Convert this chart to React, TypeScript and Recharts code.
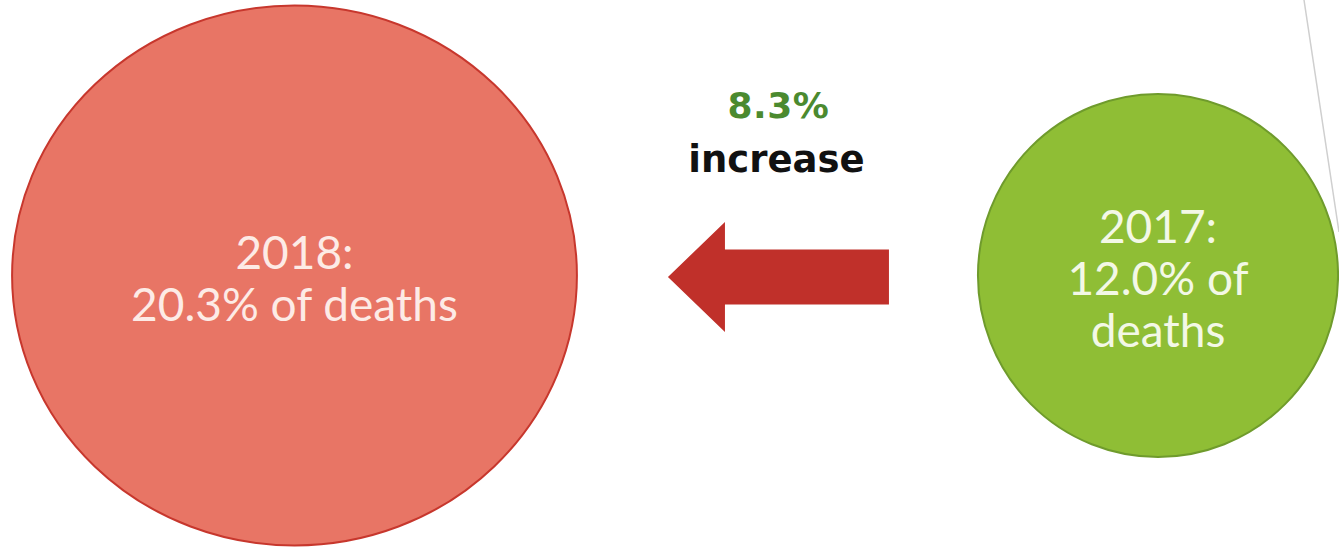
import React from "react";
import { ScatterChart, Scatter, XAxis, YAxis, ZAxis, Customized } from "recharts";

// values
const years = [2018, 2017];
const shares = [20.3, 12.0];
const unitText = "of deaths";
const changeText = "increase";

const fills = ["#e87565", "#8fbe35"];
const strokes = ["#c7372d", "#6f9b2c"];
const labelColors = ["#fdebe6", "#f3f8e6"];
// the slide image is slightly stretched, so the bubbles are not perfectly round
const aspect = [1.046, 0.992];

const W = 1339;
const H = 551;
const FONT = 46;
const LINE = 52;

const points = years.map((year, i) => ({ year, share: shares[i], row: 0.5, idx: i }));
const change = `${(shares[0] - shares[1]).toFixed(1)}%`;

// rough word wrap so the text stays inside the circle
const wrap = (words: string[], maxW: number) => {
  const lines: string[] = [];
  let cur = "";
  words.forEach((w) => {
    const next = cur ? `${cur} ${w}` : w;
    if (cur && next.length * FONT * 0.46 > maxW) {
      lines.push(cur);
      cur = w;
    } else cur = next;
  });
  if (cur) lines.push(cur);
  return lines;
};

const Bubble = (props: any) => {
  const { cx, cy, payload } = props;
  const r = props.width ? props.width / 2 : Math.sqrt(props.size / Math.PI);
  const i = payload.idx;
  const rx = r * aspect[i];
  const lines = [`${payload.year}:`, ...wrap([`${payload.share.toFixed(1)}%`, ...unitText.split(" ")], rx * 1.5)];
  const top = cy + 2 - ((lines.length - 1) * LINE) / 2;

  let arrow = null;
  if (i === 1) {
    // arrow from the earlier year back toward the later one
    const right = cx - rx - 89;
    const left = right - 221;
    const neck = left + 57;
    const ay = cy + 1.5;
    const mid = (left + right) / 2;
    arrow = (
      <g>
        <path
          d={`M${left},${ay} L${neck},${ay - 55} L${neck},${ay - 27.5} L${right},${ay - 27.5} L${right},${ay + 27.5} L${neck},${ay + 27.5} L${neck},${ay + 55} Z`}
          fill="#c0302a"
        />
        <text x={mid} y={cy - 158} textAnchor="middle" fontFamily="DejaVu Sans" fontWeight="bold" fontSize={36} letterSpacing={0.5} fill="#4b8a2f">
          {change}
        </text>
        <text x={mid - 2} y={cy - 104} textAnchor="middle" fontFamily="DejaVu Sans" fontWeight="bold" fontSize={37} fill="#111">
          {changeText}
        </text>
      </g>
    );
  }

  return (
    <g>
      <ellipse cx={cx} cy={cy} rx={rx} ry={r} fill={fills[i]} stroke={strokes[i]} strokeWidth={2} />
      {lines.map((t, k) => (
        <text
          key={k}
          x={cx}
          y={top + k * LINE}
          textAnchor="middle"
          dominantBaseline="central"
          fontFamily="Lato"
          fontSize={FONT}
          fill={labelColors[i]}
        >
          {t}
        </text>
      ))}
      {arrow}
    </g>
  );
};

const EdgeLine = () => <line x1={W - 35} y1={0} x2={W} y2={232} stroke="#cfcfcf" strokeWidth={1.5} />;

export default function App() {
  const minS = Math.min(...shares);
  const maxS = Math.max(...shares);
  return (
    <div style={{ width: W, height: H, background: "#fff" }}>
      <style>{`body{margin:0}`}</style>
      <ScatterChart width={W} height={H} margin={{ top: 0, right: 181, bottom: 0, left: 294.5 }}>
        <XAxis type="number" dataKey="year" domain={[years[1], years[0]]} reversed hide />
        <YAxis type="number" dataKey="row" domain={[0, 1]} hide />
        <ZAxis type="number" dataKey="share" domain={[minS, maxS]} range={[Math.PI * 181.5 * 181.5, Math.PI * 270 * 270]} />
        <Customized component={EdgeLine} />
        <Scatter data={points} shape={Bubble} isAnimationActive={false} />
      </ScatterChart>
    </div>
  );
}
